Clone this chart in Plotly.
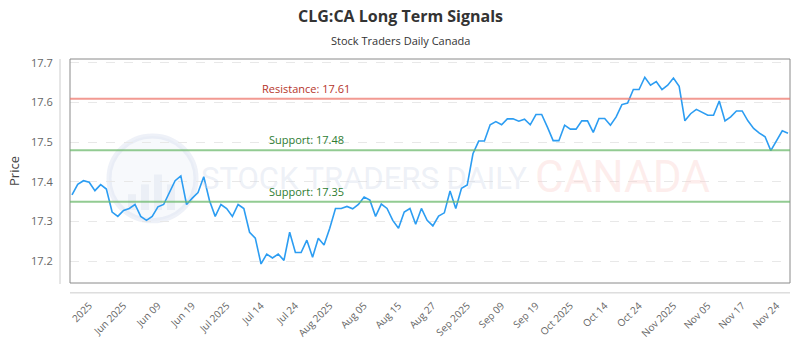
import plotly.graph_objects as go

# ---- data ----
prices = [
    17.367, 17.394, 17.403, 17.399, 17.378, 17.393, 17.382, 17.324, 17.313, 17.328,
    17.333, 17.343, 17.313, 17.303, 17.313, 17.337, 17.343, 17.372, 17.403, 17.415,
    17.343, 17.359, 17.373, 17.413, 17.353, 17.313, 17.343, 17.333, 17.313, 17.343,
    17.333, 17.273, 17.258, 17.193, 17.218, 17.208, 17.218, 17.202, 17.273, 17.222,
    17.222, 17.253, 17.210, 17.258, 17.241, 17.283, 17.333, 17.333, 17.338, 17.332,
    17.343, 17.362, 17.354, 17.313, 17.344, 17.333, 17.303, 17.283, 17.324, 17.333,
    17.293, 17.333, 17.303, 17.289, 17.314, 17.322, 17.377, 17.333, 17.384, 17.392,
    17.471, 17.503, 17.503, 17.544, 17.552, 17.544, 17.559, 17.559, 17.553, 17.558,
    17.544, 17.570, 17.570, 17.538, 17.504, 17.504, 17.543, 17.533, 17.533, 17.554,
    17.554, 17.525, 17.560, 17.560, 17.543, 17.564, 17.595, 17.599, 17.633, 17.633,
    17.664, 17.644, 17.653, 17.633, 17.644, 17.662, 17.641, 17.554, 17.572, 17.583,
    17.575, 17.568, 17.568, 17.604, 17.554, 17.564, 17.579, 17.579, 17.554, 17.535,
    17.523, 17.514, 17.479, 17.504, 17.529, 17.523,
]
x_index = list(range(len(prices)))

tick_labels = [
    "2025", "Jun 2025", "Jun 09", "Jun 19", "Jul 2025", "Jul 14", "Jul 24",
    "Aug 2025", "Aug 05", "Aug 15", "Aug 27", "Sep 2025", "Sep 09", "Sep 19",
    "Oct 2025", "Oct 14", "Oct 24", "Nov 2025", "Nov 05", "Nov 17", "Nov 24",
]
tick_positions = [3 + 6 * k for k in range(len(tick_labels))]

resistance = 17.61
supports = [17.48, 17.35]

y_ticks = [17.2, 17.3, 17.4, 17.5, 17.6, 17.7]

# ---- figure ----
fig = go.Figure()
fig.add_trace(go.Scatter(
    x=x_index, y=prices, mode="lines",
    line=dict(color="#2c9df2", width=1.6),
    hoverinfo="skip", showlegend=False,
))

FONT = "Open Sans, Noto Sans, DejaVu Sans, sans-serif"
PW, PH, PL, PT = 720, 227, 70, 59


def px(xp):
    return (xp - PL) / PW


def py(yp):
    return (PT + PH - yp) / PH


shapes = []
# plot box
shapes.append(dict(type="rect", xref="paper", yref="paper", x0=0, x1=1, y0=0, y1=1,
                   line=dict(color="#8a8a8a", width=1), layer="above"))
# offset y axis line
shapes.append(dict(type="line", xref="paper", yref="paper", x0=px(60), x1=px(60),
                   y0=py(287), y1=py(59), line=dict(color="#cccccc", width=1)))
# offset x axis line
shapes.append(dict(type="line", xref="paper", yref="paper", x0=0, x1=1,
                   y0=py(296), y1=py(296), line=dict(color="#cccccc", width=1)))
# watermark circle
shapes.append(dict(type="circle", xref="paper", yref="paper",
                   x0=px(109), x1=px(196), y0=py(223), y1=py(137),
                   line=dict(color="rgba(205,216,235,0.35)", width=5),
                   fillcolor="rgba(225,232,244,0.25)", layer="below"))
# watermark bars inside circle
for bx, top in [(128, 196), (141, 186), (154, 176), (167, 186)]:
    shapes.append(dict(type="rect", xref="paper", yref="paper",
                       x0=px(bx), x1=px(bx + 8), y0=py(212), y1=py(top),
                       line=dict(width=0), fillcolor="rgba(205,214,230,0.28)", layer="below"))
# resistance / support lines
shapes.append(dict(type="line", xref="paper", yref="y", x0=0, x1=1,
                   y0=resistance, y1=resistance,
                   line=dict(color="rgba(238,120,110,0.75)", width=2)))
for s in supports:
    shapes.append(dict(type="line", xref="paper", yref="y", x0=0, x1=1, y0=s, y1=s,
                       line=dict(color="rgba(110,185,110,0.75)", width=2)))

annotations = [
    dict(text="<b>CLG:CA Long Term Signals</b>", x=px(400), y=py(15), xref="paper", yref="paper",
         xanchor="center", yanchor="middle",
         showarrow=False, font=dict(family=FONT, size=16, color="#333333")),
    dict(text="Stock Traders Daily Canada", x=px(400), y=py(40), xref="paper", yref="paper",
         xanchor="center", yanchor="middle",
         showarrow=False, font=dict(family=FONT, size=11, color="#333333")),
    dict(text="STOCK TRADERS DAILY", xref="paper", yref="paper",
         x=px(364), y=py(180), xanchor="center", yanchor="middle", showarrow=False,
         font=dict(family="Roboto, sans-serif", size=31, color="rgba(210,218,234,0.4)")),
    dict(text="CANADA", xref="paper", yref="paper",
         x=px(622), y=py(179), xanchor="center", yanchor="middle", showarrow=False,
         font=dict(family="Roboto, Open Sans, sans-serif", size=44, color="rgba(250,205,200,0.35)")),
    dict(text="Resistance: 17.61", xref="paper", yref="y", x=px(306), y=resistance,
         xanchor="center", yanchor="bottom", yshift=1, showarrow=False,
         font=dict(family=FONT, size=11, color="#b5342a")),
]
for s in supports:
    annotations.append(dict(text=f"Support: {s:.2f}", xref="paper", yref="y",
                            x=px(306), y=s, xanchor="center", yanchor="bottom", yshift=1,
                            showarrow=False, font=dict(family=FONT, size=11, color="#2e7d32")))

fig.update_layout(
    width=800, height=350,
    margin=dict(l=70, r=10, t=59, b=64),
    paper_bgcolor="white", plot_bgcolor="white",
    font=dict(family=FONT, color="#666666"),
    shapes=shapes, annotations=annotations,
    showlegend=False,
    xaxis=dict(
        range=[-0.35, 125.35],
        tickmode="array", tickvals=tick_positions, ticktext=tick_labels,
        tickangle=-45, tickfont=dict(family=FONT, size=10, color="#666666"),
        showgrid=False, zeroline=False, showline=False,
        ticks="outside", ticklen=12, tickcolor="rgba(0,0,0,0)",
    ),
    yaxis=dict(
        range=[17.145, 17.71],
        tickmode="array", tickvals=y_ticks, ticktext=[f"{v:.1f}" for v in y_ticks],
        tickfont=dict(family=FONT, size=11, color="#666666"),
        showgrid=True, gridcolor="#e8e8e8", griddash="dash", gridwidth=1,
        zeroline=False, showline=False,
        ticks="outside", ticklen=14, tickcolor="rgba(0,0,0,0)",
        title=dict(text="Price", font=dict(family=FONT, size=13, color="#444444"), standoff=8),
    ),
)

fig.write_html("out.html")
